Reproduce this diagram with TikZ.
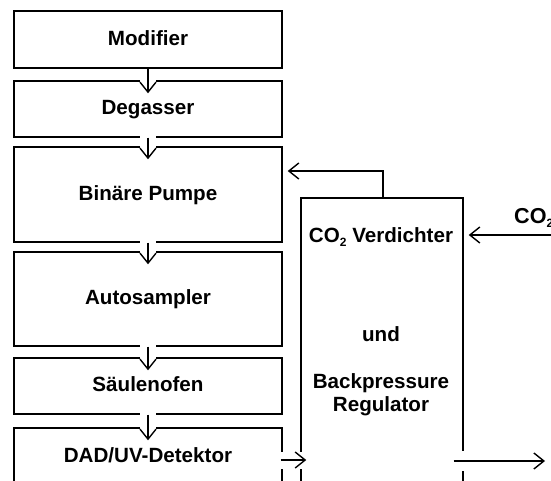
\documentclass[tikz,border=0pt]{standalone}
\usepackage{fontspec}
\setmainfont{Liberation Sans}
\usetikzlibrary{arrows.meta,calc}
\newcommand{\dlabelfont}{\fontsize{20.6}{23.7}\selectfont\bfseries}
\newcommand{\subtwo}{\raisebox{-4pt}{\fontsize{12}{12}\selectfont 2}}
\begin{document}
\begin{tikzpicture}[x=1pt,y=-1pt,
  box/.style={draw=black, line width=1.4pt, minimum width=268pt, inner sep=0pt,
    text height=14.7pt, text depth=3pt, font=\dlabelfont},
  bigbox/.style={draw=black, line width=1.4pt, inner sep=0pt},
  arr/.style={line width=1.4pt, -{Straight Barb[length=10pt,width=16pt]}},
  lbl/.style={font=\dlabelfont, inner sep=0pt}]
\useasboundingbox (0,0) rectangle (551,481);
\clip (0,0) rectangle (551,481);
\fill[white] (0,0) rectangle (551,481);

% left column
\node[box, minimum height=57pt] (mod)  at (148,39.5)  {Modifier};
\node[box, minimum height=56pt] (deg)  at (148,109)   {Degasser};
\node[box, minimum height=95pt] (pump) at (148,194.5) {Binäre Pumpe};
\node[box, minimum height=94pt] (auto) at (148,299)   {Autosampler};
\node[box, minimum height=56pt] (oven) at (148,386)   {Säulenofen};
\node[box, minimum height=57pt] (dad)  at (148,456.5) {DAD/UV-Detektor};

% big box
\node[bigbox, minimum width=162pt, minimum height=297pt] (bp) at (382,346.5) {};
\node[lbl, anchor=base] (t1) at (381,242.7) {CO\subtwo{} Verdichter};
\node[lbl, anchor=base] (t2) at (381,341.7) {und};
\node[lbl, anchor=base] (t3) at (381,388)   {Backpressure};
\node[lbl, anchor=base] (t4) at (381,411.7) {Regulator};
\node[lbl, anchor=base west, font=\fontsize{21.6}{24}\selectfont\bfseries] (co2) at (514,223.5) {CO\subtwo};

% vertical arrows
\draw[arr, shorten >=-13pt,
  preaction={draw=white, line width=16pt, -, shorten >=-13pt, shorten <=1pt}]
  (mod.south) -- (deg.north);
\draw[arr, shorten >=-13pt,
  preaction={draw=white, line width=16pt, -, shorten >=-13pt, shorten <=-2pt}]
  (deg.south) -- (pump.north);
\draw[arr, shorten >=-13pt,
  preaction={draw=white, line width=16pt, -, shorten >=-13pt, shorten <=-2pt}]
  (pump.south) -- (auto.north);
\draw[arr, shorten >=-13pt,
  preaction={draw=white, line width=16pt, -, shorten >=-13pt, shorten <=-2pt}]
  (auto.south) -- (oven.north);
\draw[arr, shorten >=-13pt,
  preaction={draw=white, line width=16pt, -, shorten >=-13pt, shorten <=-2pt}]
  (oven.south) -- (dad.north);

% detector to big box
\coordinate (dadout) at ([yshift=-3.5pt]dad.east);
\draw[arr, shorten >=-6pt, shorten <=-2pt,
  preaction={draw=white, line width=17pt, -, shorten >=-6pt, shorten <=-2pt}]
  (dadout) -- (dadout -| bp.west);

% output
\coordinate (outend) at (545,461);
\draw[arr, preaction={draw=white, line width=20pt, -}]
  ($(bp.east |- outend)+(-10,0)$) -- (outend);

% feedback to pump
\coordinate (fb) at ([yshift=23.5pt]pump.east);
\draw[arr, shorten >=5pt] ([xshift=1pt]bp.north) |- (fb);

% CO2 input
\coordinate (co2src) at (551,235);
\draw[arr, shorten >=5pt] (co2src) -- (bp.east |- co2src);
\end{tikzpicture}
\end{document}
